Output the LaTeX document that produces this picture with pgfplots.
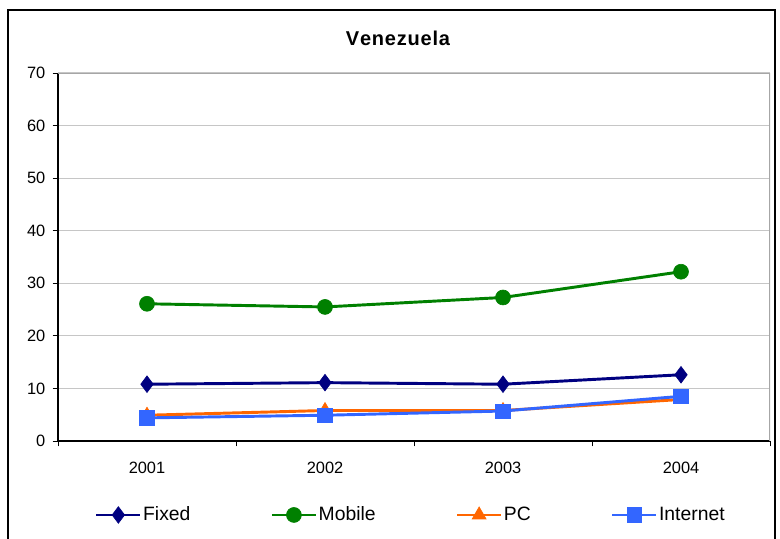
\documentclass[border=0pt]{standalone}
\usepackage{pgfplots}
\pgfplotsset{compat=1.18}
\usepackage{fontspec}
\setmainfont{Liberation Sans}
\definecolor{cFixed}{RGB}{0,0,128}
\definecolor{cMobile}{RGB}{0,128,0}
\definecolor{cPC}{RGB}{255,102,0}
\definecolor{cNet}{RGB}{51,102,255}
\begin{document}
\begin{tikzpicture}
\path[use as bounding box] (0,0) rectangle (585pt,403.5pt);
\draw[black, line width=0.9pt] (6pt,-3pt) -- (6pt,396pt) -- (581.25pt,396pt) -- (581.25pt,-3pt);
\node[font=\fontsize{15}{18}\selectfont\bfseries] at (298.5pt,375pt) {V\kern0.6pt e\kern0.6pt n\kern0.6pt e\kern0.6pt z\kern0.6pt u\kern0.6pt e\kern0.6pt l\kern0.6pt a};
\begin{axis}[
  at={(43.5pt,72.75pt)}, anchor=south west,
  scale only axis, width=534pt, height=276pt,
  xmin=-0.5, xmax=3.5, ymin=0, ymax=70,
  axis lines=left, axis line style={-, line width=0.8pt},
  xtick={0,1,2,3}, xticklabels={2001,2002,2003,2004},
  major x tick style={draw=none},
  minor xtick={-0.5,0.5,1.5,2.5,3.5},
  ytick={0,10,...,70},
  tick align=outside, major tick length=4pt, minor tick length=4pt,
  tick style={black, line width=0.6pt},
  ymajorgrids, grid style={gray!45, line width=0.8pt},
  tick label style={font=\fontsize{12.3}{14}\selectfont},
  /pgf/number format/assume math mode=true,
  xticklabel style={yshift=-8pt},
  yticklabel style={xshift=-2pt},
  legend columns=4,
  legend style={at={(0.495,-0.201)}, anchor=center, draw=none, fill=none,
    font=\fontsize{14.5}{17}\selectfont,
    nodes={inner sep=1pt},
    /tikz/every even column/.append style={column sep=59pt}},
  legend image code/.code={
    \draw[mark repeat=2,mark phase=2] plot coordinates {(0pt,0pt) (16.5pt,0pt) (33pt,0pt)};},
  every axis plot/.append style={line width=2.2pt},
]
\addplot[cFixed, mark=diamond*, mark size=6.2pt, mark options={solid, line width=0.5pt}]
  coordinates {(0,10.8) (1,11.1) (2,10.8) (3,12.6)};
\addlegendentry{Fixed}
\addplot[cMobile, mark=*, mark size=5.6pt, mark options={solid, line width=0.5pt}]
  coordinates {(0,26.1) (1,25.5) (2,27.3) (3,32.2)};
\addlegendentry{Mobile}
\addplot[cPC, mark=triangle*, mark size=6pt, mark options={solid, line width=0.5pt}]
  coordinates {(0,4.9) (1,5.8) (2,5.8) (3,7.9)};
\addlegendentry{PC}
\addplot[cNet, mark=square*, mark size=5.4pt, mark options={solid, line width=0.5pt}]
  coordinates {(0,4.4) (1,4.9) (2,5.7) (3,8.5)};
\addlegendentry{Internet}
\draw[gray!70, line width=0.8pt] (rel axis cs:0,1) -- (rel axis cs:1,1) -- (rel axis cs:1,0);
\end{axis}
\end{tikzpicture}
\end{document}
